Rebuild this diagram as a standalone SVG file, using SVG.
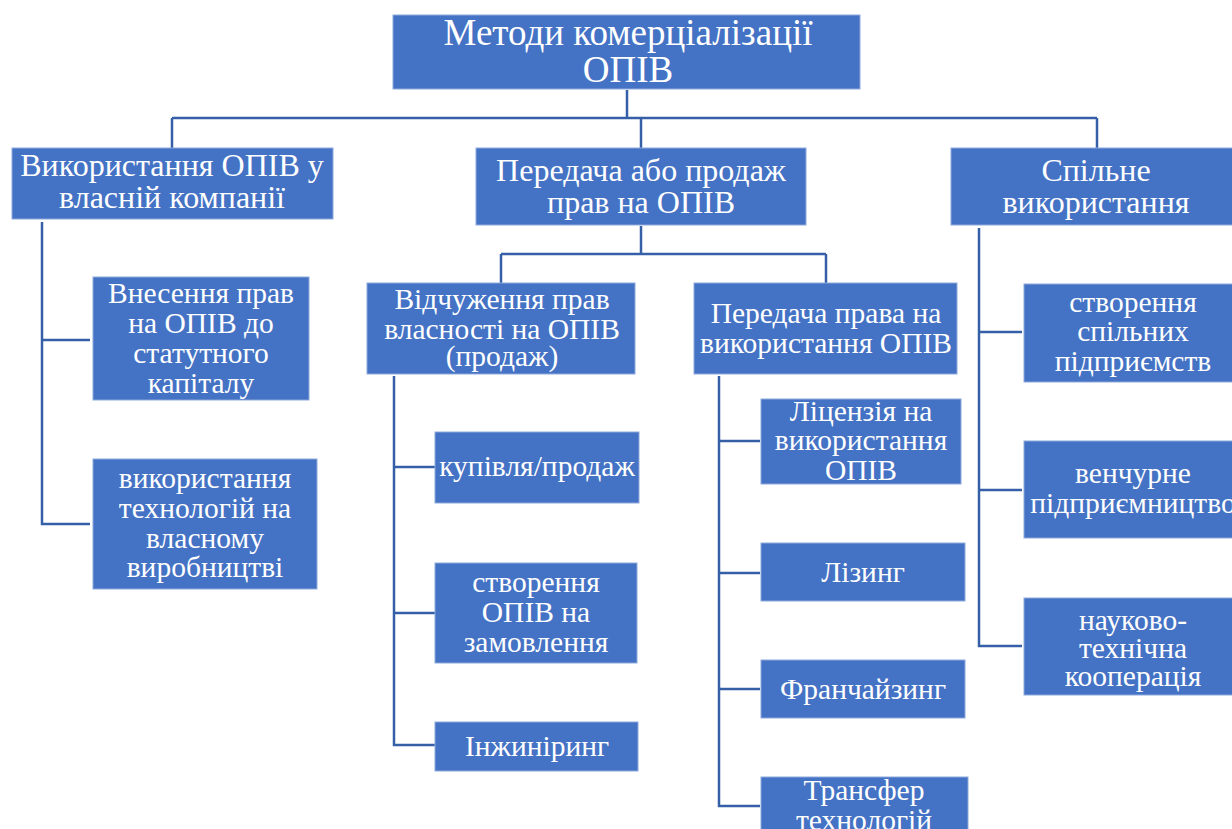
<svg xmlns="http://www.w3.org/2000/svg" width="1232" height="829" viewBox="0 0 1232 829">
<style>
.box{fill:#4472C4;stroke:#8EA9DB;stroke-width:1}
.t{font-family:'Liberation Serif','Times New Roman','DejaVu Serif',serif;fill:#FFFFFF;text-anchor:middle}
.t0{font-size:37px}
.t1{font-size:32px}
.t2{font-size:29.5px}
.c{fill:none;stroke:#3560A8;stroke-width:2.5}
</style>
<rect width="1232" height="829" fill="#FFFFFF"/>
<g id="connectors">
<path class="c" d="M627 90 V118 M172 118 H1097 M172 118 V148 M641 118 V148 M1097 118 V148"/>
<path class="c" d="M42 222 V524 H90 M42 340 H90"/>
<path class="c" d="M641 226 V254 M501 254 H826 M501 254 V283 M826 254 V283"/>
<path class="c" d="M394 376 V745 H435 M394 467 H435 M394 613 H435"/>
<path class="c" d="M719 376 V806 H760 M719 441 H760 M719 573 H760 M719 689 H760"/>
<path class="c" d="M979 228 V646 H1022 M979 332 H1022 M979 490 H1022"/>
</g>
<g id="root"><rect class="box" x="393" y="15" width="467" height="74"/>
<text class="t t0" x="628" y="45">Методи комерціалізації</text>
<text class="t t0" x="628" y="82">ОПІВ</text></g>
<g id="own"><rect class="box" x="12" y="148" width="321" height="71"/>
<text class="t t1" x="172" y="176">Використання ОПІВ у</text>
<text class="t t1" x="172" y="208">власній компанії</text></g>
<g id="transfer"><rect class="box" x="476" y="148" width="330" height="77"/>
<text class="t t1" x="641" y="181">Передача або продаж</text>
<text class="t t1" x="641" y="213">прав на ОПІВ</text></g>
<g id="joint"><rect class="box" x="951" y="148" width="290" height="77"/>
<text class="t t1" x="1096" y="181">Спільне</text>
<text class="t t1" x="1096" y="213">використання</text></g>
<g id="capital"><rect class="box" x="93" y="277" width="216" height="123"/>
<text class="t t2" x="201" y="303">Внесення прав</text>
<text class="t t2" x="201" y="333">на ОПІВ до</text>
<text class="t t2" x="201" y="363">статутного</text>
<text class="t t2" x="201" y="393">капіталу</text></g>
<g id="production"><rect class="box" x="93" y="459" width="224" height="130"/>
<text class="t t2" x="205" y="488">використання</text>
<text class="t t2" x="205" y="518">технологій на</text>
<text class="t t2" x="205" y="548">власному</text>
<text class="t t2" x="205" y="577">виробництві</text></g>
<g id="alienation"><rect class="box" x="367" y="283" width="268" height="91"/>
<text class="t t2" x="502" y="309">Відчуження прав</text>
<text class="t t2" x="502" y="339">власності на ОПІВ</text>
<text class="t t2" x="502" y="366">(продаж)</text></g>
<g id="userights"><rect class="box" x="694" y="283" width="263" height="91"/>
<text class="t t2" x="826" y="323">Передача права на</text>
<text class="t t2" x="826" y="353">використання ОПІВ</text></g>
<g id="buysell"><rect class="box" x="435" y="432" width="204" height="71"/>
<text class="t t2" x="537" y="476">купівля/продаж</text></g>
<g id="custom"><rect class="box" x="435" y="563" width="202" height="100"/>
<text class="t t2" x="536" y="592">створення</text>
<text class="t t2" x="536" y="622">ОПІВ на</text>
<text class="t t2" x="536" y="652">замовлення</text></g>
<g id="engineering"><rect class="box" x="435" y="722" width="203" height="49"/>
<text class="t t2" x="537" y="756">Інжиніринг</text></g>
<g id="license"><rect class="box" x="761" y="399" width="200" height="85"/>
<text class="t t2" x="861" y="421">Ліцензія на</text>
<text class="t t2" x="861" y="450">використання</text>
<text class="t t2" x="861" y="480">ОПІВ</text></g>
<g id="leasing"><rect class="box" x="761" y="543" width="204" height="58"/>
<text class="t t2" x="863" y="582">Лізинг</text></g>
<g id="franchising"><rect class="box" x="761" y="660" width="204" height="58"/>
<text class="t t2" x="863" y="699">Франчайзинг</text></g>
<g id="techtransfer"><rect class="box" x="761" y="777" width="207" height="60"/>
<text class="t t2" x="864" y="800">Трансфер</text>
<text class="t t2" x="864" y="830">технологій</text></g>
<g id="jointventures"><rect class="box" x="1024" y="284" width="219" height="98"/>
<text class="t t2" x="1133" y="312">створення</text>
<text class="t t2" x="1133" y="341">спільних</text>
<text class="t t2" x="1133" y="371">підприємств</text></g>
<g id="venture"><rect class="box" x="1024" y="441" width="219" height="97"/>
<text class="t t2" x="1133" y="483">венчурне</text>
<text class="t t2" x="1133" y="513">підприємництво</text></g>
<g id="cooperation"><rect class="box" x="1024" y="598" width="219" height="97"/>
<text class="t t2" x="1133" y="630">науково-</text>
<text class="t t2" x="1133" y="658">технічна</text>
<text class="t t2" x="1133" y="686">кооперація</text></g>
</svg>
